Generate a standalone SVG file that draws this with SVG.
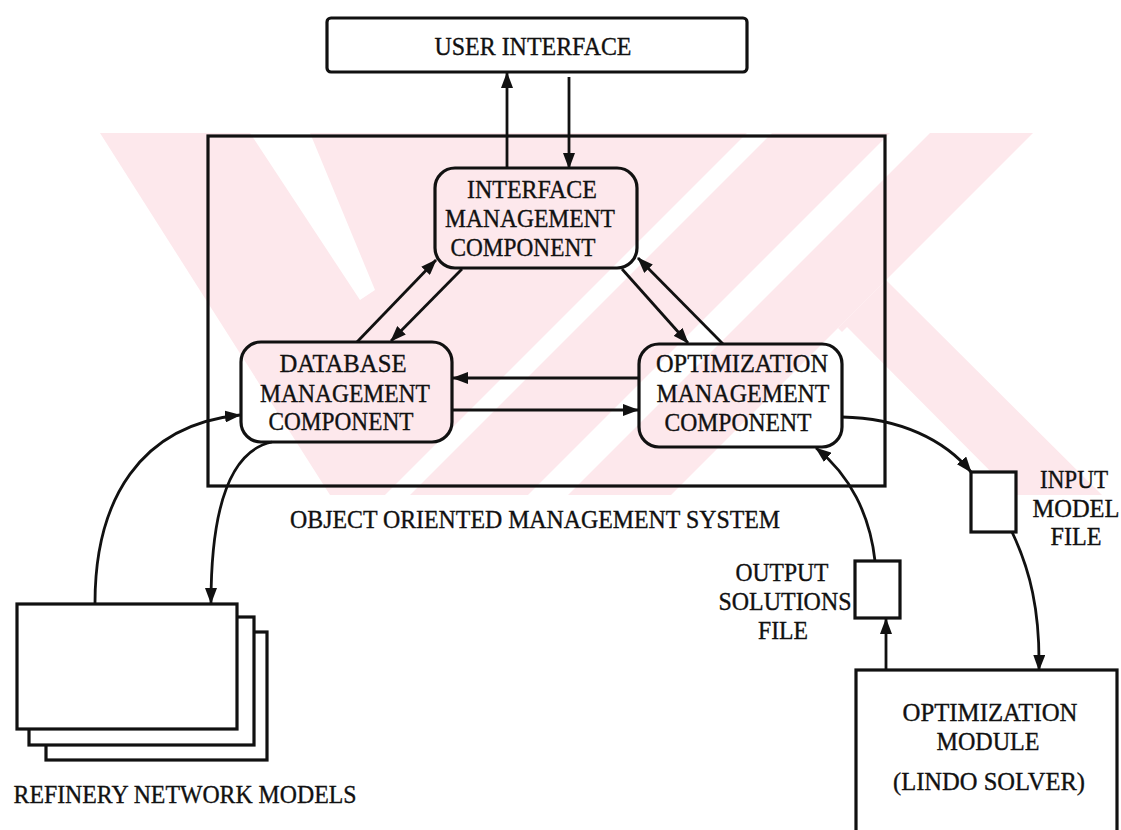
<svg xmlns="http://www.w3.org/2000/svg" width="1121" height="830" viewBox="0 0 1121 830">
  <style>
    .box { fill: none; stroke: #111; stroke-width: 3.2; }
    .wbox { fill: #fff; stroke: #111; stroke-width: 3.2; }
    .lbl { font-family: "Liberation Serif", "Times New Roman", serif; font-size: 25px; fill: #111; stroke: #111; stroke-width: 0.35; text-anchor: middle; }
    .wire { fill: none; stroke: #111; stroke-width: 2.8; }
    .wm { fill: #fde8ec; }
    .gap { fill: #fff; }
  </style>
  <defs>
    <marker id="head" viewBox="0 0 16 12" refX="15" refY="6" markerWidth="16" markerHeight="12" markerUnits="userSpaceOnUse" orient="auto">
      <path d="M0,0 L16,6 L0,12 Z" fill="#111"/>
    </marker>
    <clipPath id="wmclip">
      <rect x="100" y="133" width="1021" height="362"/>
    </clipPath>
  </defs>

  <rect width="1121" height="830" fill="#fff"/>

  <!-- background emblem: pale diagonal bands with white gaps -->
  <g id="emblem" clip-path="url(#wmclip)">
    <polygon class="wm" points="100,133 1033,133 671,495 330,495"/>
    <polygon class="wm" points="838,328 886,280 1102,495 1005,495"/>
    <polygon class="gap" points="250,133 310,133 375,290 360,300"/>
    <polygon class="gap" points="747,133 772,133 410,495 385,495"/>
    <polygon class="gap" points="890,133 930,133 568,495 528,495"/>
    <polygon class="gap" points="847,327 1014,495 679,495"/>
  </g>

  <!-- connectors -->
  <g id="connectors">
    <line class="wire" x1="507" y1="168" x2="507" y2="73" marker-end="url(#head)"/>
    <line class="wire" x1="569" y1="77" x2="569" y2="168" marker-end="url(#head)"/>
    <line class="wire" x1="357" y1="342" x2="436" y2="260" marker-end="url(#head)"/>
    <line class="wire" x1="462" y1="269" x2="391" y2="341" marker-end="url(#head)"/>
    <line class="wire" x1="622" y1="269" x2="688" y2="343" marker-end="url(#head)"/>
    <line class="wire" x1="723" y1="344" x2="638" y2="258" marker-end="url(#head)"/>
    <line class="wire" x1="639" y1="378" x2="453" y2="378" marker-end="url(#head)"/>
    <line class="wire" x1="452" y1="410" x2="638" y2="410" marker-end="url(#head)"/>
    <path class="wire" d="M95,603 C95,500 140,425 240,415" marker-end="url(#head)"/>
    <path class="wire" d="M272,442 C225,452 211,520 211,603" marker-end="url(#head)"/>
    <path class="wire" d="M842,417 C900,418 945,440 971,472" marker-end="url(#head)"/>
    <path class="wire" d="M1012,532 C1030,570 1040,610 1039,670" marker-end="url(#head)"/>
    <path class="wire" d="M875,561 C870,515 850,475 816,448" marker-end="url(#head)"/>
    <line class="wire" x1="886" y1="670" x2="886" y2="619" marker-end="url(#head)"/>
  </g>

  <g id="user-interface">
    <rect class="wbox" x="327" y="18" width="420" height="54" rx="4"/>
    <text class="lbl" x="533" y="55" textLength="197" lengthAdjust="spacingAndGlyphs">USER INTERFACE</text>
  </g>

  <g id="oo-management-system">
    <rect class="box" x="208" y="136" width="677" height="350"/>
    <text class="lbl" x="535" y="528" textLength="490" lengthAdjust="spacingAndGlyphs">OBJECT ORIENTED MANAGEMENT SYSTEM</text>
  </g>

  <g id="interface-management">
    <rect class="box" x="435" y="168" width="202" height="100" rx="20"/>
    <text class="lbl" x="532" y="198" textLength="130" lengthAdjust="spacingAndGlyphs">INTERFACE</text>
    <text class="lbl" x="530" y="227" textLength="170" lengthAdjust="spacingAndGlyphs">MANAGEMENT</text>
    <text class="lbl" x="523" y="256" textLength="145" lengthAdjust="spacingAndGlyphs">COMPONENT</text>
  </g>

  <g id="database-management">
    <rect class="box" x="241" y="342" width="211" height="100" rx="20"/>
    <text class="lbl" x="343" y="372" textLength="127" lengthAdjust="spacingAndGlyphs">DATABASE</text>
    <text class="lbl" x="345" y="402" textLength="170" lengthAdjust="spacingAndGlyphs">MANAGEMENT</text>
    <text class="lbl" x="341" y="430" textLength="145" lengthAdjust="spacingAndGlyphs">COMPONENT</text>
  </g>

  <g id="optimization-management">
    <rect class="box" x="639" y="344" width="203" height="103" rx="20"/>
    <text class="lbl" x="742" y="372" textLength="172" lengthAdjust="spacingAndGlyphs">OPTIMIZATION</text>
    <text class="lbl" x="743" y="402" textLength="173" lengthAdjust="spacingAndGlyphs">MANAGEMENT</text>
    <text class="lbl" x="738" y="431" textLength="147" lengthAdjust="spacingAndGlyphs">COMPONENT</text>
  </g>

  <g id="refinery-network-models">
    <rect class="wbox" x="46" y="632" width="221" height="128"/>
    <rect class="wbox" x="29" y="617" width="225" height="128"/>
    <rect class="wbox" x="17" y="604" width="220" height="125"/>
    <text class="lbl" x="185" y="803" textLength="343" lengthAdjust="spacingAndGlyphs">REFINERY NETWORK MODELS</text>
  </g>

  <g id="input-model-file">
    <rect class="wbox" x="971" y="472" width="45" height="60"/>
    <text class="lbl" x="1074" y="488" textLength="68" lengthAdjust="spacingAndGlyphs">INPUT</text>
    <text class="lbl" x="1076" y="517" textLength="87" lengthAdjust="spacingAndGlyphs">MODEL</text>
    <text class="lbl" x="1076" y="545" textLength="51" lengthAdjust="spacingAndGlyphs">FILE</text>
  </g>

  <g id="output-solutions-file">
    <rect class="wbox" x="855" y="561" width="45" height="57"/>
    <text class="lbl" x="782" y="581" textLength="93" lengthAdjust="spacingAndGlyphs">OUTPUT</text>
    <text class="lbl" x="785" y="610" textLength="133" lengthAdjust="spacingAndGlyphs">SOLUTIONS</text>
    <text class="lbl" x="783" y="639" textLength="50" lengthAdjust="spacingAndGlyphs">FILE</text>
  </g>

  <g id="optimization-module">
    <rect class="wbox" x="856" y="670" width="261" height="175"/>
    <text class="lbl" x="990" y="721" textLength="175" lengthAdjust="spacingAndGlyphs">OPTIMIZATION</text>
    <text class="lbl" x="988" y="750" textLength="103" lengthAdjust="spacingAndGlyphs">MODULE</text>
    <text class="lbl" x="989" y="790" textLength="192" lengthAdjust="spacingAndGlyphs">(LINDO SOLVER)</text>
  </g>
</svg>
